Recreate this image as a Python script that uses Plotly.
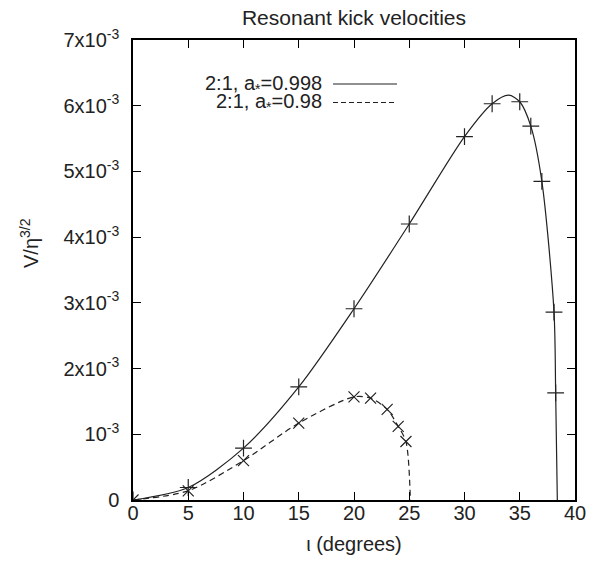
import plotly.graph_objects as go

# ---- data (values in units of 1e-3) ----
a998_x = [0, 5, 10, 15, 20, 25, 30, 32.5, 35, 36, 37, 38.1, 38.25]
a998_y = [0, 0.19, 0.79, 1.72, 2.91, 4.20, 5.53, 6.03, 6.06, 5.69, 4.85, 2.86, 1.63]
a998_curve_x = [0, 5, 10, 15, 20, 25, 30, 32.5, 34, 35, 36, 37, 38.1, 38.25, 38.4]
a998_curve_y = [0, 0.19, 0.79, 1.72, 2.91, 4.20, 5.53, 6.03, 6.16, 6.06, 5.69, 4.85, 2.86, 1.63, 0]

a98_x = [0, 5, 10, 15, 20, 21.5, 23, 24, 24.7]
a98_y = [0, 0.14, 0.60, 1.17, 1.57, 1.55, 1.38, 1.12, 0.89]
a98_curve_x = [0, 5, 10, 15, 20, 21.5, 23, 24, 24.7, 25.1]
a98_curve_y = [0, 0.14, 0.60, 1.17, 1.57, 1.55, 1.38, 1.12, 0.89, 0]

scale = 1e-3
y_tick_vals = [0, 1, 2, 3, 4, 5, 6, 7]
y_tick_text = ["0", "10<sup>-3</sup>", "2x10<sup>-3</sup>", "3x10<sup>-3</sup>",
               "4x10<sup>-3</sup>", "5x10<sup>-3</sup>", "6x10<sup>-3</sup>", "7x10<sup>-3</sup>"]
x_tick_vals = [0, 5, 10, 15, 20, 25, 30, 35, 40]

legend_labels = ["2:1, a<sub>*</sub>=0.998", "2:1, a<sub>*</sub>=0.98"]

FONT = "Liberation Sans, Arial, sans-serif"
LINE = "#222222"
FS = 20

fig = go.Figure()
fig.add_trace(go.Scatter(
    x=a998_curve_x, y=[v * scale for v in a998_curve_y], mode="lines",
    line=dict(color=LINE, width=1.2, shape="spline", smoothing=0.8), showlegend=False))
fig.add_trace(go.Scatter(
    x=a998_x, y=[v * scale for v in a998_y], mode="markers",
    marker=dict(symbol="cross-thin", size=12, line=dict(color=LINE, width=1.2)), showlegend=False))
fig.add_trace(go.Scatter(
    x=a98_curve_x, y=[v * scale for v in a98_curve_y], mode="lines",
    line=dict(color=LINE, width=1.2, dash="6px,4px", shape="spline", smoothing=0.8), showlegend=False))
fig.add_trace(go.Scatter(
    x=a98_x, y=[v * scale for v in a98_y], mode="markers",
    marker=dict(symbol="x-thin", size=11, line=dict(color=LINE, width=1.2)), showlegend=False))

# legend built from annotations + sample lines (paper coords)
plot_l, plot_r, plot_t, plot_b = 133, 575, 40, 500
W, H = 590, 567
def px_x(p):
    return (p - plot_l) / (plot_r - plot_l)
def px_y(p):
    return (plot_b - p) / (plot_b - plot_t)

rows = [84, 102.5]
dashes = ["solid", "dash"]
for lab, yy, d in zip(legend_labels, rows, dashes):
    fig.add_annotation(x=px_x(324), y=px_y(yy), xref="paper", yref="paper", text=lab,
                       showarrow=False, xanchor="right", yanchor="middle",
                       font=dict(family=FONT, size=FS, color="#222"))
    fig.add_shape(type="line", xref="paper", yref="paper",
                  x0=px_x(333), x1=px_x(397), y0=px_y(yy), y1=px_y(yy),
                  line=dict(color=LINE, width=1.2, dash="5px,3px" if d == "dash" else "solid"))

fig.add_annotation(x=px_x(29), y=px_y(243), xref="paper", yref="paper",
                   text="V/η<sup>3/2</sup>", textangle=-90, showarrow=False,
                   xanchor="center", yanchor="middle",
                   font=dict(family=FONT, size=FS, color="#222"))

axis_common = dict(showgrid=False, zeroline=False, showline=True, linecolor="black",
                   linewidth=1.5, mirror="ticks", ticks="inside", ticklen=8,
                   tickcolor="black", tickwidth=1.2, automargin=False,
                   tickfont=dict(family=FONT, size=FS, color="#222"))

fig.update_xaxes(range=[0, 40], tickvals=x_tick_vals,
                 title=dict(text="ι (degrees)", font=dict(family=FONT, size=FS, color="#222"), standoff=14),
                 ticklabelstandoff=-6, **axis_common)
fig.update_yaxes(range=[0, 7e-3], tickvals=[v * scale for v in y_tick_vals], ticktext=y_tick_text,
                 ticklabelstandoff=8, **axis_common)

fig.update_layout(
    width=W, height=H, plot_bgcolor="white", paper_bgcolor="white",
    margin=dict(l=plot_l, r=W - plot_r, t=plot_t, b=H - plot_b),
    title=dict(text="Resonant kick velocities", x=354 / W,
               xanchor="center", y=1 - 18 / H, yanchor="middle",
               font=dict(family=FONT, size=21, color="#222")),
    font=dict(family=FONT),
)

fig.write_html("out.html", config={"displayModeBar": False},
               post_script="document.body.style.margin='0px';")
